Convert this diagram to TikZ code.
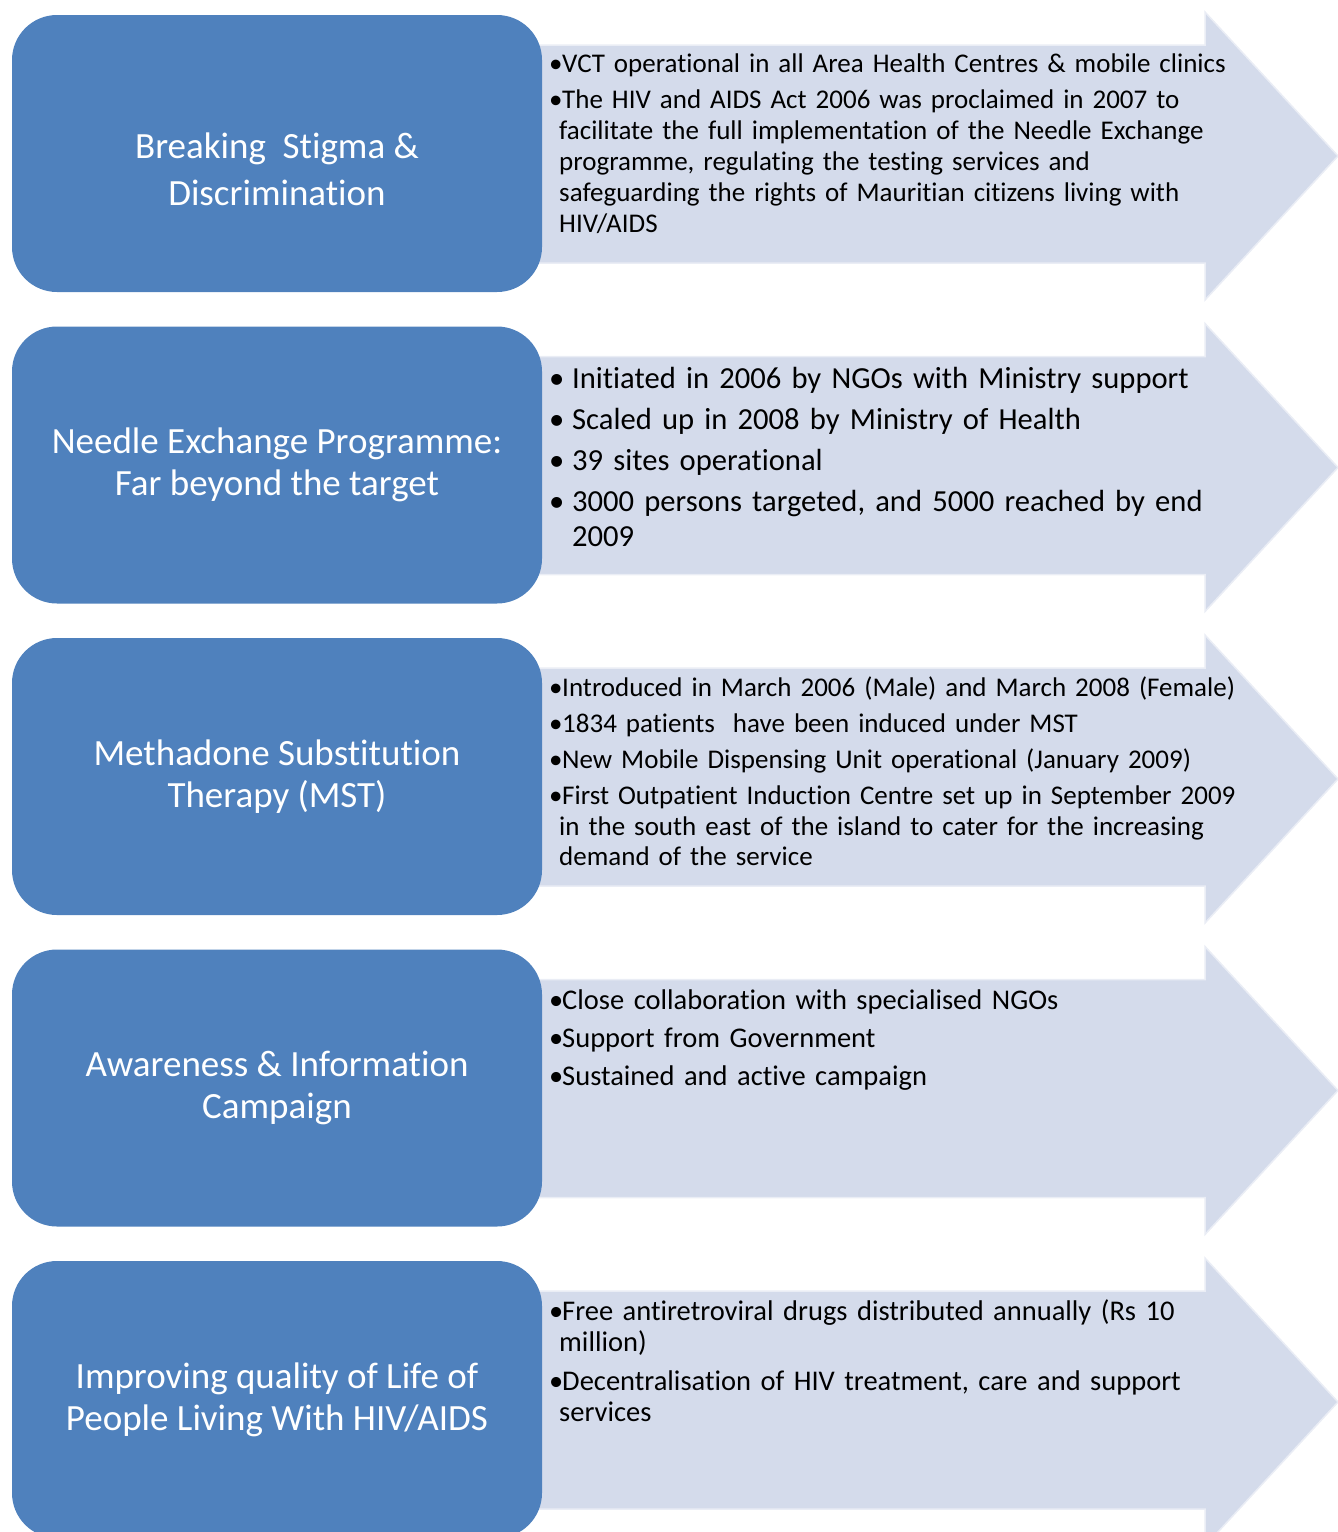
\documentclass[tikz,border=0pt]{standalone}
\usepackage{fontspec}
\setmainfont{Carlito}[Ligatures=NoCommon, Contextuals=NoAlternate]
\usetikzlibrary{positioning}
\definecolor{themeblue}{RGB}{79,129,189}
\definecolor{arrowfill}{RGB}{212,219,235}
\newcommand{\bpoint}[3]{\hangindent=#2\hangafter=1\noindent\makebox[#1][l]{\textbullet}#3\par}
\tikzset{
    themebox/.style={rectangle, rounded corners=45pt, fill=themeblue, minimum width=530pt, minimum height=277pt, inner sep=0pt, text=white, align=center, font=\fontsize{37}{42}\selectfont},
    arrowshape/.style={fill=arrowfill, draw=arrowfill!50!white, line width=1.5pt},
    pointlist/.style 2 args={anchor=north west, inner sep=0pt, text width=760pt, align=left, font=\fontsize{#1}{#2}\selectfont},
}

\begin{document}
\begin{tikzpicture}[x=1pt, y=-1pt]
\useasboundingbox (0,0) rectangle (1338,1532);

% arrows behind the boxes
\path[arrowshape] (520,45) -- (1205,45) -- (1205,12) -- (1338,156) -- (1205,300) -- (1205,263) -- (520,263) -- cycle;
\path[arrowshape] (520,356.5) -- (1205,356.5) -- (1205,323.5) -- (1338,467.5) -- (1205,611.5) -- (1205,574.5) -- (520,574.5) -- cycle;
\path[arrowshape] (520,668) -- (1205,668) -- (1205,635) -- (1338,779) -- (1205,923) -- (1205,886) -- (520,886) -- cycle;
\path[arrowshape] (520,979.5) -- (1205,979.5) -- (1205,946.5) -- (1338,1090.5) -- (1205,1234.5) -- (1205,1197.5) -- (520,1197.5) -- cycle;
\path[arrowshape] (520,1291) -- (1205,1291) -- (1205,1258) -- (1338,1402) -- (1205,1546) -- (1205,1509) -- (520,1509) -- cycle;

% theme boxes
\node[themebox] (stigma) at (277,153.5) {};
\node[font=\fontsize{37}{47}\selectfont, text=white, align=center] (stigma-title) at ([yshift=-16pt]stigma.center) {Breaking\ \ Stigma \&\\Discrimination};
\node[themebox] (needle) at (277,465) {Needle Exchange Programme:\\Far beyond the target};
\node[themebox] (mst) at (277,776.5) {Methadone Substitution\\Therapy (MST)};
\node[themebox] (awareness) at (277,1088) {Awareness \& Information\\Campaign};
\node[themebox] (quality) at (277,1399.5) {Improving quality of Life of\\People Living With HIV/AIDS};

% achievements
\node[pointlist={27}{31}] (stigma-points) at (549,54) {\setlength{\parskip}{5pt}%
\bpoint{13pt}{10pt}{VCT operational in all Area Health Centres \& mobile clinics}
\bpoint{13pt}{10pt}{The HIV and AIDS Act 2006 was proclaimed in 2007 to\newline facilitate the full implementation of the Needle Exchange\newline programme, regulating the testing services and\newline safeguarding the rights of Mauritian citizens living with\newline HIV/AIDS}};
\node[pointlist={30.6}{35.5}] (needle-points) at (549,367) {\setlength{\parskip}{5.5pt}%
\bpoint{23pt}{23pt}{Initiated in 2006 by NGOs with Ministry support}
\bpoint{23pt}{23pt}{Scaled up in 2008 by Ministry of Health}
\bpoint{23pt}{23pt}{39 sites operational}
\bpoint{23pt}{23pt}{3000 persons targeted, and 5000 reached by end\newline 2009}};
\node[pointlist={27}{30.5}] (mst-points) at (549,677) {\setlength{\parskip}{5.5pt}%
\bpoint{13pt}{10pt}{Introduced in March 2006 (Male) and March 2008 (Female)}
\bpoint{13pt}{10pt}{1834 patients\ \ have been induced under MST}
\bpoint{13pt}{10pt}{New Mobile Dispensing Unit operational (January 2009)}
\bpoint{13pt}{10pt}{First Outpatient Induction Centre set up in September 2009\newline in the south east of the island to cater for the increasing\newline demand of the service}};
\node[pointlist={28.5}{31}] (awareness-points) at (549,989) {\setlength{\parskip}{7pt}%
\bpoint{13pt}{10pt}{Close collaboration with specialised NGOs}
\bpoint{13pt}{10pt}{Support from Government}
\bpoint{13pt}{10pt}{Sustained and active campaign}};
\node[pointlist={28.5}{31}] (quality-points) at (549,1299) {\setlength{\parskip}{8pt}%
\bpoint{13pt}{10pt}{Free antiretroviral drugs distributed annually (Rs 10\newline million)}
\bpoint{13pt}{10pt}{Decentralisation of HIV treatment, care and support\newline services}};

\end{tikzpicture}
\end{document}
